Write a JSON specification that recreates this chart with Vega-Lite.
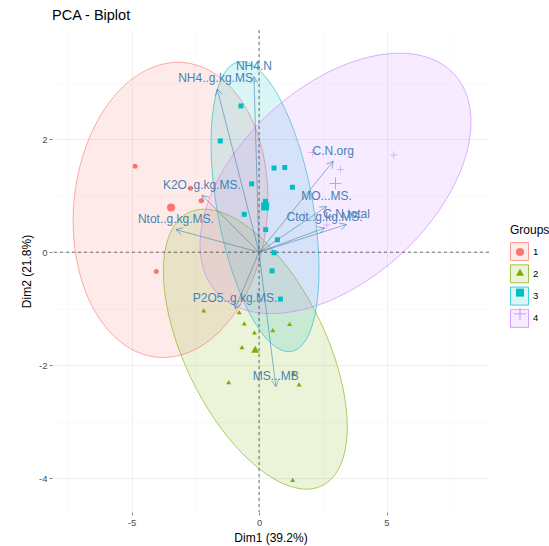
{
  "$schema": "https://vega.github.io/schema/vega-lite/v6.json",
  "width": 437,
  "height": 482,
  "autosize": {"type": "none"},
  "padding": {"left": 52, "top": 30, "right": 60, "bottom": 34},
  "title": {
    "text": "PCA - Biplot",
    "anchor": "start",
    "frame": "group",
    "offset": 6,
    "fontSize": 14.5,
    "fontWeight": "normal",
    "color": "#000000"
  },
  "config": {
    "view": {"stroke": null},
    "font": "Liberation Sans",
    "axis": {
      "domain": false,
      "labelColor": "#4D4D4D",
      "labelFontSize": 9.5,
      "labelPadding": 2,
      "labelOverlap": false,
      "labelFlush": false,
      "titleFontSize": 12,
      "titleFontWeight": "normal",
      "titleColor": "#000000",
      "tickSize": 3,
      "tickColor": "#333333",
      "tickWidth": 0.6
    }
  },
  "datasets": {
    "ind": [
      {"x": -4.86, "y": 1.52, "Groups": "1"},
      {"x": -2.69, "y": 1.13, "Groups": "1"},
      {"x": -2.27, "y": 0.91, "Groups": "1"},
      {"x": -4.03, "y": -0.34, "Groups": "1"},
      {"x": -2.17, "y": -1.03, "Groups": "2"},
      {"x": -0.78, "y": -1.06, "Groups": "2"},
      {"x": -0.58, "y": -1.26, "Groups": "2"},
      {"x": -0.18, "y": -1.42, "Groups": "2"},
      {"x": 0.54, "y": -1.38, "Groups": "2"},
      {"x": 1.2, "y": -1.27, "Groups": "2"},
      {"x": -0.67, "y": -1.68, "Groups": "2"},
      {"x": -1.19, "y": -2.3, "Groups": "2"},
      {"x": 1.35, "y": -2.14, "Groups": "2"},
      {"x": 1.57, "y": -2.34, "Groups": "2"},
      {"x": 1.32, "y": -4.03, "Groups": "2"},
      {"x": -0.71, "y": 2.59, "Groups": "3"},
      {"x": -1.52, "y": 1.97, "Groups": "3"},
      {"x": 0.59, "y": 1.49, "Groups": "3"},
      {"x": 1.01, "y": 1.5, "Groups": "3"},
      {"x": 1.31, "y": 1.15, "Groups": "3"},
      {"x": -0.29, "y": 1.21, "Groups": "3"},
      {"x": 0.25, "y": 0.9, "Groups": "3"},
      {"x": -0.58, "y": 0.67, "Groups": "3"},
      {"x": 0.26, "y": 0.4, "Groups": "3"},
      {"x": 0.72, "y": 0.22, "Groups": "3"},
      {"x": 0.59, "y": -0.01, "Groups": "3"},
      {"x": 0.51, "y": -0.33, "Groups": "3"},
      {"x": 0.84, "y": -0.83, "Groups": "3"},
      {"x": 2.09, "y": 1.76, "Groups": "4"},
      {"x": 3.2, "y": 1.47, "Groups": "4"},
      {"x": 5.29, "y": 1.72, "Groups": "4"},
      {"x": 2.66, "y": 0.48, "Groups": "4"},
      {"x": 1.77, "y": 0.66, "Groups": "4"}
    ],
    "centers": [
      {"x": -3.45, "y": 0.79, "Groups": "1"},
      {"x": -0.15, "y": -1.72, "Groups": "2"},
      {"x": 0.24, "y": 0.81, "Groups": "3"},
      {"x": 3.0, "y": 1.22, "Groups": "4"}
    ],
    "var": [
      {"name": "NH4.N", "x": -0.2, "y": 3.11},
      {"name": "NH4..g.kg.MS.", "x": -1.64, "y": 2.89},
      {"name": "K2O..g.kg.MS.", "x": -2.24, "y": 1.01},
      {"name": "Ntot..g.kg.MS.", "x": -3.26, "y": 0.4},
      {"name": "C.N.org", "x": 2.91, "y": 1.61},
      {"name": "MO...MS.", "x": 2.65, "y": 0.81},
      {"name": "Ctot..g.kg.MS.", "x": 2.57, "y": 0.43},
      {"name": "C.N.total", "x": 3.43, "y": 0.49},
      {"name": "P2O5..g.kg.MS.", "x": -0.94, "y": -1.0},
      {"name": "MS...MB", "x": 0.66, "y": -2.38}
    ],
    "ell": [
      {"Groups": "1", "i": 0, "x": -2.965, "y": 3.358},
      {"Groups": "1", "i": 1, "x": -1.82, "y": 3.184},
      {"Groups": "1", "i": 2, "x": -0.835, "y": 2.772},
      {"Groups": "1", "i": 3, "x": -0.108, "y": 2.162},
      {"Groups": "1", "i": 4, "x": 0.287, "y": 1.413},
      {"Groups": "1", "i": 5, "x": 0.317, "y": 0.6},
      {"Groups": "1", "i": 6, "x": -0.025, "y": -0.199},
      {"Groups": "1", "i": 7, "x": -0.704, "y": -0.906},
      {"Groups": "1", "i": 8, "x": -1.653, "y": -1.45},
      {"Groups": "1", "i": 9, "x": -2.782, "y": -1.778},
      {"Groups": "1", "i": 10, "x": -3.977, "y": -1.86},
      {"Groups": "1", "i": 11, "x": -5.122, "y": -1.686},
      {"Groups": "1", "i": 12, "x": -6.107, "y": -1.274},
      {"Groups": "1", "i": 13, "x": -6.834, "y": -0.664},
      {"Groups": "1", "i": 14, "x": -7.229, "y": 0.085},
      {"Groups": "1", "i": 15, "x": -7.259, "y": 0.898},
      {"Groups": "1", "i": 16, "x": -6.917, "y": 1.697},
      {"Groups": "1", "i": 17, "x": -6.238, "y": 2.404},
      {"Groups": "1", "i": 18, "x": -5.289, "y": 2.948},
      {"Groups": "1", "i": 19, "x": -4.16, "y": 3.276},
      {"Groups": "2", "i": 0, "x": 3.463, "y": -3.092},
      {"Groups": "2", "i": 1, "x": 3.286, "y": -3.662},
      {"Groups": "2", "i": 2, "x": 2.774, "y": -4.041},
      {"Groups": "2", "i": 3, "x": 1.977, "y": -4.194},
      {"Groups": "2", "i": 4, "x": 0.97, "y": -4.103},
      {"Groups": "2", "i": 5, "x": -0.145, "y": -3.779},
      {"Groups": "2", "i": 6, "x": -1.26, "y": -3.253},
      {"Groups": "2", "i": 7, "x": -2.267, "y": -2.576},
      {"Groups": "2", "i": 8, "x": -3.064, "y": -1.817},
      {"Groups": "2", "i": 9, "x": -3.576, "y": -1.046},
      {"Groups": "2", "i": 10, "x": -3.753, "y": -0.342},
      {"Groups": "2", "i": 11, "x": -3.576, "y": 0.228},
      {"Groups": "2", "i": 12, "x": -3.064, "y": 0.607},
      {"Groups": "2", "i": 13, "x": -2.267, "y": 0.76},
      {"Groups": "2", "i": 14, "x": -1.26, "y": 0.669},
      {"Groups": "2", "i": 15, "x": -0.145, "y": 0.345},
      {"Groups": "2", "i": 16, "x": 0.97, "y": -0.181},
      {"Groups": "2", "i": 17, "x": 1.977, "y": -0.858},
      {"Groups": "2", "i": 18, "x": 2.774, "y": -1.617},
      {"Groups": "2", "i": 19, "x": 3.286, "y": -2.388},
      {"Groups": "3", "i": 0, "x": 2.353, "y": -0.317},
      {"Groups": "3", "i": 1, "x": 2.249, "y": -0.975},
      {"Groups": "3", "i": 2, "x": 1.948, "y": -1.459},
      {"Groups": "3", "i": 3, "x": 1.48, "y": -1.721},
      {"Groups": "3", "i": 4, "x": 0.889, "y": -1.735},
      {"Groups": "3", "i": 5, "x": 0.235, "y": -1.501},
      {"Groups": "3", "i": 6, "x": -0.419, "y": -1.041},
      {"Groups": "3", "i": 7, "x": -1.01, "y": -0.399},
      {"Groups": "3", "i": 8, "x": -1.478, "y": 0.359},
      {"Groups": "3", "i": 9, "x": -1.779, "y": 1.163},
      {"Groups": "3", "i": 10, "x": -1.883, "y": 1.931},
      {"Groups": "3", "i": 11, "x": -1.779, "y": 2.589},
      {"Groups": "3", "i": 12, "x": -1.478, "y": 3.073},
      {"Groups": "3", "i": 13, "x": -1.01, "y": 3.335},
      {"Groups": "3", "i": 14, "x": -0.419, "y": 3.349},
      {"Groups": "3", "i": 15, "x": 0.235, "y": 3.115},
      {"Groups": "3", "i": 16, "x": 0.889, "y": 2.655},
      {"Groups": "3", "i": 17, "x": 1.48, "y": 2.013},
      {"Groups": "3", "i": 18, "x": 1.948, "y": 1.255},
      {"Groups": "3", "i": 19, "x": 2.249, "y": 0.451},
      {"Groups": "4", "i": 0, "x": 8.314, "y": 2.306},
      {"Groups": "4", "i": 1, "x": 8.054, "y": 1.625},
      {"Groups": "4", "i": 2, "x": 7.299, "y": 0.903},
      {"Groups": "4", "i": 3, "x": 6.125, "y": 0.214},
      {"Groups": "4", "i": 4, "x": 4.642, "y": -0.378},
      {"Groups": "4", "i": 5, "x": 3.0, "y": -0.814},
      {"Groups": "4", "i": 6, "x": 1.358, "y": -1.05},
      {"Groups": "4", "i": 7, "x": -0.125, "y": -1.066},
      {"Groups": "4", "i": 8, "x": -1.299, "y": -0.857},
      {"Groups": "4", "i": 9, "x": -2.054, "y": -0.445},
      {"Groups": "4", "i": 10, "x": -2.314, "y": 0.13},
      {"Groups": "4", "i": 11, "x": -2.054, "y": 0.811},
      {"Groups": "4", "i": 12, "x": -1.299, "y": 1.533},
      {"Groups": "4", "i": 13, "x": -0.125, "y": 2.222},
      {"Groups": "4", "i": 14, "x": 1.358, "y": 2.814},
      {"Groups": "4", "i": 15, "x": 3.0, "y": 3.25},
      {"Groups": "4", "i": 16, "x": 4.642, "y": 3.486},
      {"Groups": "4", "i": 17, "x": 6.125, "y": 3.502},
      {"Groups": "4", "i": 18, "x": 7.299, "y": 3.293},
      {"Groups": "4", "i": 19, "x": 8.054, "y": 2.881}
    ]
  },
  "layer": [
    {
      "data": {"name": "ell"},
      "mark": {"type": "line", "interpolate": "cardinal-closed", "strokeWidth": 0.6},
      "encoding": {
        "x": {
          "field": "x",
          "type": "quantitative",
          "scale": {"domain": [-8.12, 9.02], "nice": false, "zero": false},
          "axis": {
            "title": "Dim1 (39.2%)",
            "values": [-7.5, -5, -2.5, 0, 2.5, 5, 7.5],
            "labelExpr": "datum.value % 5 === 0 ? '' + datum.value : ''",
            "gridColor": {"condition": {"test": "datum.value % 5 !== 0", "value": "#F4F4F4"}, "value": "#EBEBEB"},
            "gridWidth": {"condition": {"test": "datum.value % 5 !== 0", "value": 0.5}, "value": 0.8},
            "tickOpacity": {"condition": {"test": "datum.value % 5 !== 0", "value": 0}, "value": 1},
            "titlePadding": 6
          }
        },
        "y": {
          "field": "y",
          "type": "quantitative",
          "scale": {"domain": [-4.6, 3.934], "nice": false, "zero": false},
          "axis": {
            "title": "Dim2 (21.8%)",
            "values": [-4, -3, -2, -1, 0, 1, 2, 3],
            "labelExpr": "datum.value % 2 === 0 ? '' + datum.value : ''",
            "gridColor": {"condition": {"test": "datum.value % 2 !== 0", "value": "#F4F4F4"}, "value": "#EBEBEB"},
            "gridWidth": {"condition": {"test": "datum.value % 2 !== 0", "value": 0.5}, "value": 0.8},
            "tickOpacity": {"condition": {"test": "datum.value % 2 !== 0", "value": 0}, "value": 1},
            "titlePadding": 5
          }
        },
        "order": {"field": "i", "type": "quantitative"},
        "fill": {
          "field": "Groups",
          "type": "nominal",
          "scale": {"domain": ["1", "2", "3", "4"], "range": ["rgba(248,118,109,0.15)", "rgba(124,174,0,0.15)", "rgba(0,191,196,0.15)", "rgba(199,124,255,0.15)"]},
          "legend": {
            "title": "Groups", "orient": "none", "legendX": 458, "legendY": 195,
            "symbolType": "square", "symbolSize": 324, "symbolStrokeWidth": 0.7,
            "rowPadding": 1.3, "labelOffset": 4, "titlePadding": 5, "padding": 0,
            "titleFontSize": 12, "titleFontWeight": "normal", "titleColor": "#000000",
            "labelFontSize": 9.5, "labelColor": "#000000"
          }
        },
        "stroke": {
          "field": "Groups",
          "type": "nominal",
          "scale": {"domain": ["1", "2", "3", "4"], "range": ["#F8766D", "#7CAE00", "#00BFC4", "#C77CFF"]},
          "legend": {
            "title": "Groups", "orient": "none", "legendX": 458, "legendY": 195,
            "symbolType": "square", "symbolSize": 324, "symbolStrokeWidth": 0.7,
            "rowPadding": 1.3, "labelOffset": 4, "titlePadding": 5, "padding": 0,
            "titleFontSize": 12, "titleFontWeight": "normal", "titleColor": "#000000",
            "labelFontSize": 9.5, "labelColor": "#000000"
          }
        }
      }
    },
    {
      "data": {"values": [{}]},
      "mark": {"type": "rule", "strokeDash": [3, 3], "color": "#333333", "strokeWidth": 0.7},
      "encoding": {"x": {"datum": 0}}
    },
    {
      "data": {"values": [{}]},
      "mark": {"type": "rule", "strokeDash": [3, 3], "color": "#333333", "strokeWidth": 0.7},
      "encoding": {"y": {"datum": 0}}
    },
    {
      "data": {"name": "ind"},
      "mark": {"type": "point", "filled": true, "size": 25, "opacity": 1},
      "encoding": {
        "x": {"field": "x", "type": "quantitative"},
        "y": {"field": "y", "type": "quantitative"},
        "color": {
          "field": "Groups",
          "type": "nominal",
          "scale": {"range": ["#F8766D", "#7CAE00", "#00BFC4", "#C77CFF"]},
          "legend": {
            "title": null, "orient": "none", "legendX": 463, "legendY": 217,
            "symbolSize": 64, "rowPadding": 11.3, "labelExpr": "''",
            "labelFontSize": 1, "labelOffset": 0, "padding": 0
          }
        },
        "shape": {
          "field": "Groups",
          "type": "nominal",
          "scale": {"range": ["circle", "triangle-up", "square", "M-1.5,-0.1L-0.1,-0.1L-0.1,-1.5L0.1,-1.5L0.1,-0.1L1.5,-0.1L1.5,0.1L0.1,0.1L0.1,1.5L-0.1,1.5L-0.1,0.1L-1.5,0.1Z"]},
          "legend": {
            "title": null, "orient": "none", "legendX": 463, "legendY": 217,
            "symbolSize": 64, "rowPadding": 11.3, "labelExpr": "''",
            "labelFontSize": 1, "labelOffset": 0, "padding": 0
          }
        }
      }
    },
    {
      "data": {"name": "centers"},
      "mark": {"type": "point", "filled": true, "size": 64, "opacity": 1},
      "encoding": {
        "x": {"field": "x", "type": "quantitative"},
        "y": {"field": "y", "type": "quantitative"},
        "color": {"field": "Groups", "type": "nominal"},
        "shape": {"field": "Groups", "type": "nominal"}
      }
    },
    {
      "data": {"name": "var"},
      "mark": {"type": "rule", "color": "#4682B4", "strokeWidth": 0.6},
      "encoding": {
        "x": {"field": "x", "type": "quantitative"},
        "y": {"field": "y", "type": "quantitative"},
        "x2": {"datum": 0},
        "y2": {"datum": 0}
      }
    },
    {
      "data": {"name": "var"},
      "mark": {
        "type": "point",
        "shape": "M-0.55,1L0,0L0.55,1",
        "size": 169,
        "filled": false,
        "opacity": 1,
        "stroke": "#4682B4",
        "strokeWidth": 0.6,
        "angle": {"expr": "atan2(scale('x', datum.x) - scale('x', 0), scale('y', 0) - scale('y', datum.y)) * 180 / PI"}
      },
      "encoding": {
        "x": {"field": "x", "type": "quantitative"},
        "y": {"field": "y", "type": "quantitative"}
      }
    },
    {
      "data": {"name": "var"},
      "mark": {"type": "text", "color": "#4682B4", "fontSize": 12, "dy": -10.5, "align": "center", "baseline": "middle"},
      "encoding": {
        "x": {"field": "x", "type": "quantitative"},
        "y": {"field": "y", "type": "quantitative"},
        "text": {"field": "name", "type": "nominal"}
      }
    }
  ]
}
